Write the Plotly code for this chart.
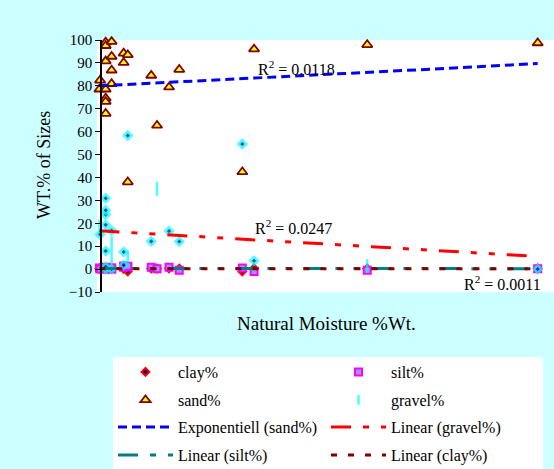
import numpy as np
import plotly.graph_objects as go

# Natural moisture (% wt.) of each sample
moisture = [0.16, 0.20,
            0.57, 0.57, 0.57, 0.57, 0.57, 0.57, 0.57,
            0.96, 0.96, 0.96, 0.96,
            1.75, 1.75,
            2.02, 2.02,
            3.56, 3.94, 4.73, 5.40, 9.54, 10.31, 17.74, 28.93]

# Grain-size fractions (WT.% of sizes) per sample
sand = [78.5, 82.4,
        99.0, 97.5, 90.8, 78.5, 74.6, 73.1, 67.9,
        99.3, 92.8, 86.8, 80.9,
        94.2, 90.1,
        93.5, 38.0,
        84.5, 62.7, 79.4, 87.1, 42.4, 96.0, 97.9, 98.7]
gravel = [18.5, 15.1,
          0.0, 1.0, 7.9, 19.3, 23.8, 25.7, 30.9,
          0.0, 5.0, 11.2, 16.8,
          1.7, 7.5,
          5.0, 58.3,
          12.1, 35.0, 16.6, 12.0, 54.6, 3.6, 1.3, 0.0]
silt = [0.5, 0.0,
        0.3, 0.6, 0.2, 0.8, 0.4, 0.0, 0.5,
        0.3, 0.6, 0.2, 0.0,
        1.3, 0.8,
        0.9, 1.2,
        0.8, 0.1, 0.8, -0.5, 0.5, -1.0, -0.5, 0.2]
clay = [0.3, 0.2,
        0.2, 0.4, 0.3, 0.2, 0.3, 0.2, 0.4,
        0.3, 0.2, 0.3, 0.4,
        0.3, 0.2,
        0.3, -1.0,
        0.3, 0.2, 0.3, 0.2, -1.0, 0.3, 0.2, 0.3]

# Gravel points come in two marker styles: dash ("|") or dotted diamond
gravel_style = ["dash", "dot",
                "dot", "dot", "dot", "dot", "dot", "dot", "dot",
                "dot", "dash", "dash", "dot",
                "dot", "dot",
                "dash", "dot",
                "dot", "dash", "dot", "dot", "dot", "dot", "dash", "dot"]

# Trendline parameters (exponential: a*exp(b*x); linear: a + b*x)
sand_exp = [79.95, 0.00398]
gravel_lin = [16.8, -0.39]
silt_lin = [0.30, -0.004]
clay_lin = [0.15, 0.0]

r2_labels = ["R<sup>2</sup> = 0.0118", "R<sup>2</sup> = 0.0247", "R<sup>2</sup> = 0.0011"]

SERIF = "Liberation Serif"

xs = np.linspace(min(moisture), max(moisture), 60)
sand_fit = sand_exp[0] * np.exp(sand_exp[1] * xs)
gravel_fit = gravel_lin[0] + gravel_lin[1] * xs
silt_fit = silt_lin[0] + silt_lin[1] * xs
clay_fit = clay_lin[0] + clay_lin[1] * xs

g_sym = ["line-ns" if s == "dash" else "diamond" for s in gravel_style]
g_size = [10 if s == "dash" else 6 for s in gravel_style]
g_col = ["#00FFFF" if s == "dash" else "#000080" for s in gravel_style]

fig = go.Figure()
fig.add_trace(go.Scatter(
    x=moisture, y=clay, mode="markers", name="clay%", legend="legend",
    marker=dict(symbol="diamond", size=6, color="#000080",
                line=dict(color="#FF0000", width=2)),
    cliponaxis=False))
fig.add_trace(go.Scatter(
    x=moisture, y=silt, mode="markers", name="silt%", legend="legend",
    marker=dict(symbol="square", size=7, color="#9999FF",
                line=dict(color="#FF00FF", width=2)),
    cliponaxis=False))
fig.add_trace(go.Scatter(
    x=moisture, y=sand, mode="markers", name="sand%", legend="legend2",
    marker=dict(symbol="triangle-up", size=9, color="#FFFF00",
                line=dict(color="#800000", width=1.8)),
    cliponaxis=False))
fig.add_trace(go.Scatter(
    x=moisture, y=gravel, mode="markers", name="gravel%", legend="legend2",
    marker=dict(symbol=g_sym, size=g_size, color=g_col,
                line=dict(color="#00FFFF", width=2.5)),
    cliponaxis=False))

fig.add_trace(go.Scatter(
    x=xs, y=sand_fit, mode="lines", name="Exponentiell (sand%)", legend="legend3",
    line=dict(color="#0000FF", width=3, dash="9px,5px")))
fig.add_trace(go.Scatter(
    x=xs, y=gravel_fit, mode="lines", name="Linear (gravel%)", legend="legend3",
    line=dict(color="#FF0000", width=3, dash="20px,12px,6px,12px,6px,12px")))
fig.add_trace(go.Scatter(
    x=xs, y=silt_fit, mode="lines", name="Linear (silt%)", legend="legend4",
    line=dict(color="#008080", width=3, dash="20px,12px,6px,12px,6px,12px")))
fig.add_trace(go.Scatter(
    x=xs, y=clay_fit, mode="lines", name="Linear (clay%)", legend="legend4",
    line=dict(color="#800000", width=3, dash="6px,11px")))

W, H = 554, 469
L, R, T, B = 97, 0, 40, 177
pw, ph = W - L - R, H - T - B


def px(x):
    return (x - L) / pw


def py(y):
    return (H - B - y) / ph


def legend_row(ycenter):
    return dict(
        orientation="h", x=px(113), y=py(ycenter), xanchor="left", yanchor="middle",
        bgcolor="rgba(0,0,0,0)", borderwidth=0,
        font=dict(family=SERIF, size=16),
        entrywidth=143, entrywidthmode="pixels", itemwidth=55,
        traceorder="normal",
    )


fig.update_layout(
    width=W, height=H, autosize=False,
    margin=dict(l=L, r=R, t=T, b=B, pad=0, autoexpand=False),
    paper_bgcolor="#CCFFFF", plot_bgcolor="#FFFFFF",
    font=dict(family=SERIF, size=15, color="#000000"),
    showlegend=True,
    legend=legend_row(372),
    legend2=legend_row(400),
    legend3=legend_row(427),
    legend4=legend_row(455),
    xaxis=dict(range=[0, 30], showline=False, showgrid=False, zeroline=False,
               showticklabels=False, ticks=""),
    yaxis=dict(range=[-10, 100], dtick=10, anchor="free", position=px(101),
               showline=True, linecolor="#000000", linewidth=1.5,
               ticks="outside", ticklen=5, tickwidth=1.2, tickcolor="#000000",
               showgrid=False, zeroline=False,
               tickfont=dict(family=SERIF, size=15)),
    shapes=[dict(type="rect", xref="paper", yref="paper",
                 x0=px(113), x1=px(543), y0=py(470), y1=py(357),
                 fillcolor="#FFFFFF", line=dict(width=0), layer="below")],
    annotations=[
        dict(text="Natural Moisture %Wt.", xref="paper", yref="paper",
             x=px(326), y=py(323), xanchor="center", yanchor="middle",
             showarrow=False, font=dict(family=SERIF, size=19)),
        dict(text="WT.% of Sizes", xref="paper", yref="paper",
             x=px(44), y=py(165), xanchor="center", yanchor="middle",
             textangle=-90, showarrow=False, font=dict(family=SERIF, size=18)),
        dict(text=r2_labels[0], xref="paper", yref="paper",
             x=px(256), y=py(68), xanchor="left", yanchor="middle",
             showarrow=False, font=dict(family=SERIF, size=16)),
        dict(text=r2_labels[1], xref="paper", yref="paper",
             x=px(253), y=py(227), xanchor="left", yanchor="middle",
             showarrow=False, font=dict(family=SERIF, size=16)),
        dict(text=r2_labels[2], xref="paper", yref="paper",
             x=px(543), y=py(283), xanchor="right", yanchor="middle",
             showarrow=False, font=dict(family=SERIF, size=16)),
    ],
)

fig.write_html("out.html")
